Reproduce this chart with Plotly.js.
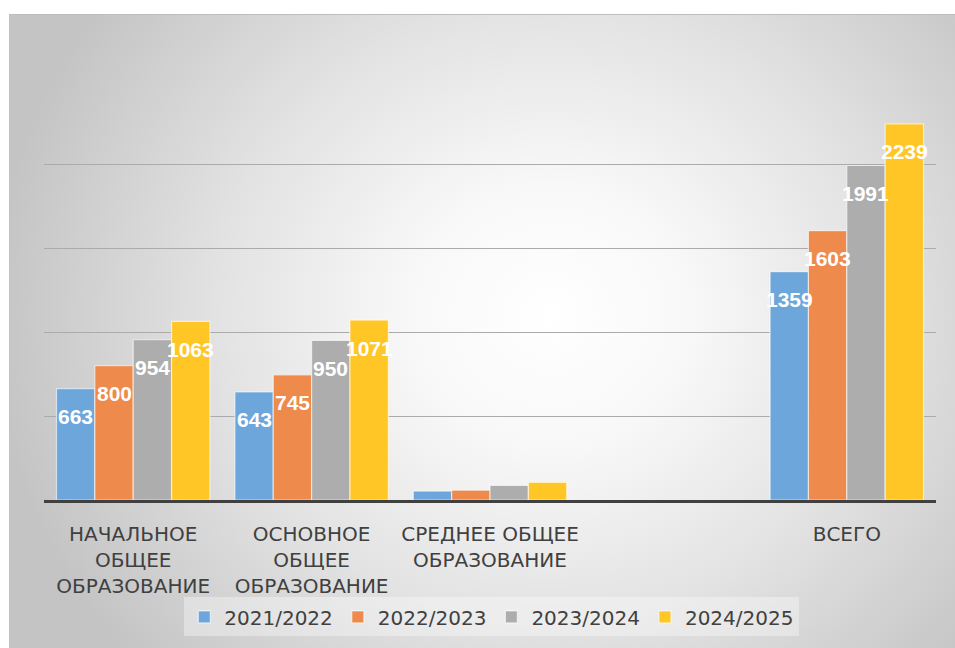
<!DOCTYPE html>
<html>
<head>
<meta charset="utf-8">
<script src="https://cdn.plot.ly/plotly-3.0.1.min.js"></script>
<style>
  html, body { margin: 0; padding: 0; background: #ffffff; width: 955px; height: 648px; overflow: hidden; }
  #frame {
    position: absolute; left: 9px; top: 14px; width: 960px; height: 650px;
    border-top: 1.5px solid #bdbdbd; border-left: 1.5px solid #c4c4c4;
    background: radial-gradient(ellipse 560px 520px at 540px 300px, #ffffff 0%, #f8f8f8 25%, #e2e2e2 60%, #c4c4c4 100%);
  }
  #chart { position: absolute; left: 0; top: 0; width: 955px; height: 648px; }
</style>
</head>
<body>
<div id="frame"></div>
<div id="chart"></div>
<script>
const categories = [
  'НАЧАЛЬНОЕ<br>ОБЩЕЕ<br>ОБРАЗОВАНИЕ',
  'ОСНОВНОЕ<br>ОБЩЕЕ<br>ОБРАЗОВАНИЕ',
  'СРЕДНЕЕ ОБЩЕЕ<br>ОБРАЗОВАНИЕ',
  ' ',
  'ВСЕГО'
];
const seriesNames = ['2021/2022', '2022/2023', '2023/2024', '2024/2025'];
const values2021 = [663, 643, 53, null, 1359];
const values2022 = [800, 745, 58, null, 1603];
const values2023 = [954, 950, 87, null, 1991];
const values2024 = [1063, 1071, 105, null, 2239];
const colors = ['#6DA6DA', '#EE8A4B', '#ADADAD', '#FFC626'];

const allValues = [values2021, values2022, values2023, values2024];

const BARGAP = 0.14;
const nSeries = allValues.length;
const slot = (1 - BARGAP) / nSeries;

const traces = allValues.map((vals, i) => ({
  type: 'bar',
  name: seriesNames[i],
  x: categories,
  y: vals,
  marker: { color: colors[i], line: { color: 'rgba(255,255,255,0.6)', width: 1.2 } },
  hoverinfo: 'x+y+name'
}));

// value labels placed inside the top of each bar (skip the tiny bars, as in the original)
const annotations = [];
allValues.forEach((vals, s) => {
  vals.forEach((v, c) => {
    if (v === null || v < 200) return;
    annotations.push({
      xref: 'x', yref: 'y',
      x: c - (1 - BARGAP) / 2 + (s + 0.5) * slot,
      y: v,
      yshift: -28,
      yanchor: 'middle', xanchor: 'center',
      text: String(v),
      showarrow: false,
      font: { family: 'Liberation Sans, Arial, sans-serif', size: 21, color: '#ffffff', weight: 'bold' }
    });
  });
});

const layout = {
  width: 955,
  height: 648,
  margin: { l: 44, r: 19, t: 80, b: 148, pad: 0 },
  paper_bgcolor: 'rgba(0,0,0,0)',
  plot_bgcolor: 'rgba(0,0,0,0)',
  barmode: 'group',
  bargap: BARGAP,
  bargroupgap: 0,
  showlegend: true,
  annotations: annotations,
  legend: {
    orientation: 'h',
    x: 0.502, xanchor: 'center',
    y: -0.232, yanchor: 'top',
    bgcolor: 'rgba(255,255,255,0.35)',
    borderwidth: 0,
    font: { family: 'DejaVu Sans, sans-serif', size: 20, color: '#404040' },
    traceorder: 'normal'
  },
  xaxis: {
    type: 'category',
    showgrid: false,
    showline: true,
    linecolor: '#404040',
    linewidth: 3,
    ticks: '',
    ticklabelstandoff: 14,
    tickfont: { family: 'DejaVu Sans, sans-serif', size: 20, color: '#404040' },
    fixedrange: true
  },
  yaxis: {
    range: [0, 2500],
    dtick: 500,
    showticklabels: false,
    showgrid: true,
    gridcolor: '#ABABAB',
    gridwidth: 1,
    zeroline: false,
    showline: false,
    ticks: '',
    fixedrange: true
  },
  font: { family: 'DejaVu Sans, sans-serif', color: '#404040' }
};

Plotly.newPlot('chart', traces, layout, { displayModeBar: false, staticPlot: true });
</script>
</body>
</html>
